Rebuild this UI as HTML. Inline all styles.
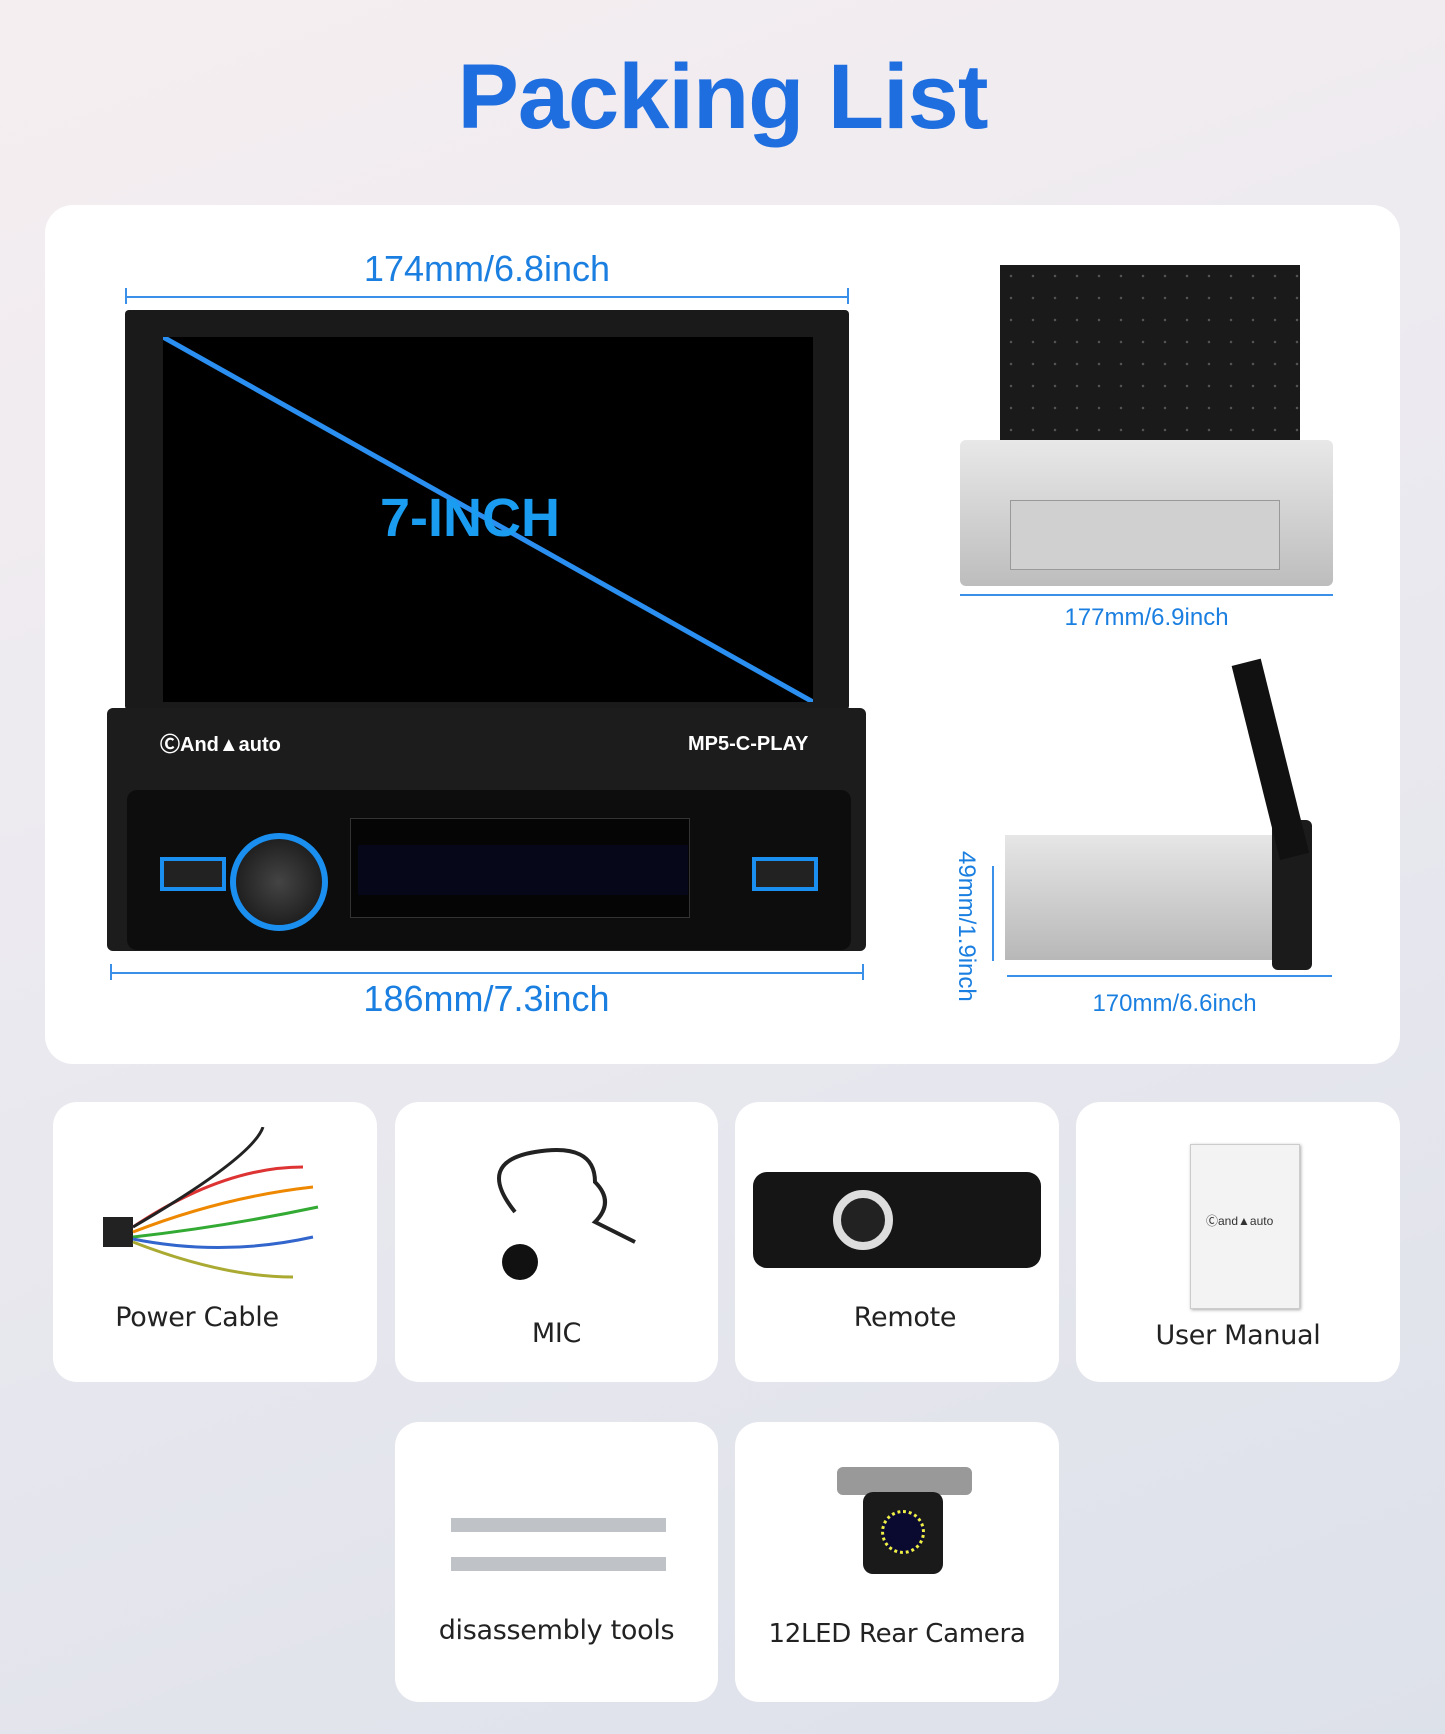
<!DOCTYPE html>
<html><head><meta charset="utf-8"><style>
*{margin:0;padding:0;box-sizing:border-box}
body{width:1445px;height:1734px;position:relative;overflow:hidden;font-family:"Liberation Sans",sans-serif;background:linear-gradient(160deg,#f5eef0 0%,#eceaf0 40%,#dde1ea 100%)}
.a{position:absolute}
.card{position:absolute;background:#fff;border-radius:24px}
.lbl{position:absolute;width:100%;text-align:center;font-size:27px;color:#222;font-family:"DejaVu Sans","Liberation Sans",sans-serif;letter-spacing:-0.3px}
.dim{position:absolute;color:#1a7fe0;text-align:center}
.hl{position:absolute;height:2px;background:#3a8fe8}
.vt{position:absolute;width:2px;background:#3a8fe8}
</style></head><body>
<div class="a" style="left:0;width:1445px;top:45px;text-align:center;font-size:92px;font-weight:bold;color:#1f6ee0;letter-spacing:-1px">Packing List</div>

<div class="card" style="left:45px;top:205px;width:1355px;height:859px;border-radius:28px"></div>

<div class="dim" style="left:125px;width:724px;top:248px;font-size:36px">174mm/6.8inch</div>
<div class="hl" style="left:125px;width:724px;top:296px"></div>
<div class="vt" style="left:125px;top:288px;height:16px"></div><div class="vt" style="left:847px;top:288px;height:16px"></div>
<div class="a" style="left:125px;top:310px;width:724px;height:400px;background:#1a1a1a;border-radius:4px"></div>
<div class="a" style="left:163px;top:337px;width:650px;height:365px;background:#000;overflow:hidden">
<svg width="650" height="365" style="position:absolute;left:0;top:0"><line x1="0" y1="0" x2="650" y2="365" stroke="#2a8ff0" stroke-width="5"/></svg>
<div class="a" style="left:217px;top:150px;font-size:54px;font-weight:bold;color:#1a9cf0">7-INCH</div>
</div>
<div class="a" style="left:107px;top:708px;width:759px;height:243px;background:#1c1c1c;border-radius:6px"></div>
<div class="a" style="left:160px;top:728px;color:#fff;font-size:20px;font-weight:bold">ⒸAnd▲auto</div>
<div class="a" style="left:688px;top:733px;color:#fff;font-size:20px;font-weight:bold">MP5-C-PLAY</div>
<div class="a" style="left:127px;top:790px;width:724px;height:160px;background:#0d0d0d;border-radius:10px"></div>
<div class="a" style="left:350px;top:818px;width:340px;height:100px;background:#050505;border:1px solid #333"></div>
<div class="a" style="left:358px;top:845px;width:330px;height:50px;background:#07071a"></div>
<div class="a" style="left:230px;top:833px;width:98px;height:98px;border-radius:50%;border:6px solid #1a8ff0;background:radial-gradient(#444,#111)"></div>
<div class="a" style="left:160px;top:857px;width:66px;height:34px;border:4px solid #1a8ff0;background:#222"></div>
<div class="a" style="left:752px;top:857px;width:66px;height:34px;border:4px solid #1a8ff0;background:#222"></div>
<div class="hl" style="left:110px;width:753px;top:972px"></div>
<div class="vt" style="left:110px;top:964px;height:16px"></div><div class="vt" style="left:862px;top:964px;height:16px"></div>
<div class="dim" style="left:110px;width:753px;top:978px;font-size:36px">186mm/7.3inch</div>

<div class="a" style="left:1000px;top:265px;width:300px;height:180px;background:#1a1a1a;background-image:radial-gradient(#555 1px,transparent 1.5px);background-size:22px 22px"></div>
<div class="a" style="left:960px;top:440px;width:373px;height:146px;background:linear-gradient(#e8e8e8,#bdbdbd);border-radius:6px"></div>
<div class="a" style="left:1010px;top:500px;width:270px;height:70px;background:#d0d0d0;border:1px solid #999"></div>
<div class="hl" style="left:960px;width:373px;top:594px"></div>
<div class="dim" style="left:960px;width:373px;top:604px;font-size:24px">177mm/6.9inch</div>

<div class="a" style="left:1005px;top:835px;width:270px;height:125px;background:linear-gradient(#e6e6e6,#b8b8b8)"></div>
<div class="a" style="left:1272px;top:820px;width:40px;height:150px;background:#1b1b1b;border-radius:6px"></div>
<div class="a" style="left:1280px;top:660px;width:30px;height:200px;background:#111;transform:rotate(-14deg);transform-origin:bottom left"></div>
<div class="hl" style="left:1007px;width:325px;top:975px"></div>
<div class="dim" style="left:1007px;width:335px;top:990px;font-size:24px">170mm/6.6inch</div>
<div class="vt" style="left:992px;top:866px;height:95px"></div>
<div class="dim" style="left:891px;top:912px;font-size:24px;transform:rotate(90deg);width:150px">49mm/1.9inch</div>

<div class="card" style="left:53px;top:1102px;width:324px;height:280px"><div class="lbl" style="top:200px;left:-18px">Power Cable</div>
<svg class="a" style="left:50px;top:25px" width="230" height="170"><rect x="0" y="90" width="30" height="30" fill="#222"/><g fill="none" stroke-width="3"><path d="M30 100 Q120 40 200 40" stroke="#d33"/><path d="M30 105 Q120 70 210 60" stroke="#e80"/><path d="M30 110 Q120 100 215 80" stroke="#3a3"/><path d="M30 112 Q120 130 210 110" stroke="#36c"/><path d="M30 115 Q120 150 190 150" stroke="#aa3"/><path d="M30 100 Q150 30 160 0" stroke="#222"/></g></svg></div>
<div class="card" style="left:395px;top:1102px;width:323px;height:280px"><div class="lbl" style="top:216px">MIC</div>
<svg class="a" style="left:80px;top:40px" width="170" height="150"><path d="M40 70 Q0 20 60 10 Q120 0 120 40 Q140 60 120 80 L160 100" fill="none" stroke="#222" stroke-width="4"/><circle cx="45" cy="120" r="18" fill="#111"/></svg></div>
<div class="card" style="left:735px;top:1102px;width:324px;height:280px"><div class="lbl" style="top:200px;left:8px">Remote</div>
<div class="a" style="left:18px;top:70px;width:288px;height:96px;background:#151515;border-radius:14px"></div>
<div class="a" style="left:98px;top:88px;width:60px;height:60px;border-radius:50%;border:8px solid #ddd;background:#222"></div></div>
<div class="card" style="left:1076px;top:1102px;width:324px;height:280px"><div class="lbl" style="top:218px">User Manual</div>
<div class="a" style="left:114px;top:42px;width:110px;height:165px;background:#f3f3f3;border:1px solid #ccc;box-shadow:1px 1px 3px #aaa"></div>
<div class="a" style="left:130px;top:110px;font-size:12px;color:#333">Ⓒand▲auto</div></div>
<div class="card" style="left:395px;top:1422px;width:323px;height:280px"><div class="lbl" style="top:193px">disassembly tools</div>
<div class="a" style="left:56px;top:96px;width:215px;height:14px;background:#bfc3c7"></div>
<div class="a" style="left:56px;top:135px;width:215px;height:14px;background:#bfc3c7"></div></div>
<div class="card" style="left:735px;top:1422px;width:324px;height:280px"><div class="lbl" style="top:197px;font-size:26px">12LED Rear Camera</div>
<div class="a" style="left:102px;top:45px;width:135px;height:28px;background:#999;border-radius:6px"></div>
<div class="a" style="left:128px;top:70px;width:80px;height:82px;background:#1a1a1a;border-radius:10px"></div>
<div class="a" style="left:146px;top:88px;width:44px;height:44px;border-radius:50%;border:3px dotted #ee4;background:#0a0a30"></div></div>
</body></html>
